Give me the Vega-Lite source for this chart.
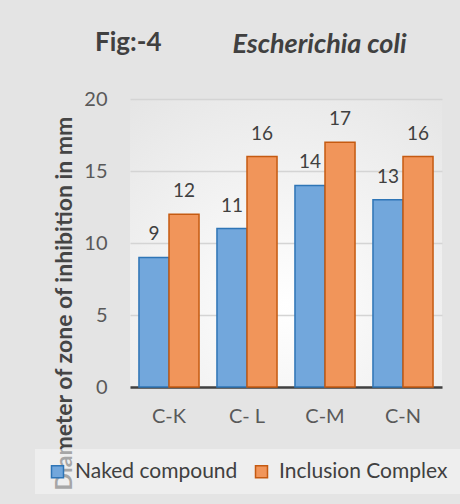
{
  "$schema": "https://vega.github.io/schema/vega-lite/v6.json",
  "autosize": "none",
  "width": 312,
  "height": 288,
  "padding": {"left": 130, "top": 99, "right": 18, "bottom": 117},
  "background": "#e4e4e4",
  "view": {
    "stroke": null,
    "fill": {
      "gradient": "radial",
      "x1": 0.5, "y1": 0.7, "r1": 0,
      "x2": 0.5, "y2": 0.7, "r2": 0.9,
      "stops": [
        {"offset": 0, "color": "#ffffff"},
        {"offset": 1, "color": "#e3e3e3"}
      ]
    }
  },
  "config": {
    "font": "Lato"
  },
  "title": {
    "text": "Fig:-4",
    "anchor": "start",
    "frame": "group",
    "font": "Lato",
    "fontSize": 26,
    "fontWeight": "bold",
    "color": "#404040",
    "dx": -35,
    "dy": 30
  },
  "data": {
    "values": [
      {"cat": "C-K", "series": "Naked compound", "value": 9},
      {"cat": "C-K", "series": "Inclusion Complex", "value": 12},
      {"cat": "C- L", "series": "Naked compound", "value": 11},
      {"cat": "C- L", "series": "Inclusion Complex", "value": 16},
      {"cat": "C-M", "series": "Naked compound", "value": 14},
      {"cat": "C-M", "series": "Inclusion Complex", "value": 17},
      {"cat": "C-N", "series": "Naked compound", "value": 13},
      {"cat": "C-N", "series": "Inclusion Complex", "value": 16}
    ]
  },
  "encoding": {
    "x": {
      "field": "cat",
      "type": "nominal",
      "sort": ["C-K", "C- L", "C-M", "C-N"],
      "scale": {"paddingInner": 0.23, "paddingOuter": 0.115}
    },
    "xOffset": {
      "field": "series",
      "type": "nominal",
      "sort": ["Naked compound", "Inclusion Complex"]
    },
    "y": {
      "field": "value",
      "type": "quantitative",
      "scale": {"domain": [0, 20]},
      "axis": {
        "values": [0, 5, 10, 15, 20],
        "title": "Diameter of zone of inhibition in mm",
        "titleFont": "Lato",
        "titleFontSize": 23,
        "titleFontWeight": "bold",
        "titleColor": "#454545",
        "titleAngle": 270,
        "titleAlign": "center",
        "titleBaseline": "middle",
        "titleX": -66,
        "titleY": 204,
        "domain": false,
        "ticks": false,
        "grid": true,
        "gridColor": "#d4d4d4",
        "gridWidth": 1.5,
        "labelFont": "Lato",
        "labelFontSize": 20,
        "labelColor": "#595959",
        "labelPadding": 23
      }
    }
  },
  "layer": [
    {
      "mark": {"type": "bar", "strokeWidth": 1.5},
      "encoding": {
        "x": {
          "field": "cat",
          "type": "nominal",
          "sort": ["C-K", "C- L", "C-M", "C-N"],
          "axis": {
            "title": null,
            "orient": "bottom",
            "labelAngle": 0,
            "labelFont": "Lato",
            "labelFontSize": 20,
            "labelColor": "#595959",
            "labelPadding": 19,
            "ticks": false,
            "domainColor": "#404040",
            "domainWidth": 2.5,
            "grid": false
          }
        },
        "fill": {
          "field": "series",
          "type": "nominal",
          "sort": ["Naked compound", "Inclusion Complex"],
          "scale": {"range": ["#72a7dc", "#f1955a"]},
          "legend": {
            "title": null,
            "orient": "none",
            "direction": "horizontal",
            "legendX": -95,
            "legendY": 350,
            "fillColor": "rgba(245,245,245,0.55)",
            "padding": 12,
            "symbolType": "square",
            "symbolSize": 144,
            "symbolStrokeWidth": 1.5,
            "labelFont": "Lato",
            "labelFontSize": 21,
            "labelColor": "#404040",
            "labelOffset": 7,
            "labelLimit": 300,
            "columnPadding": 13,
            "encode": {
              "symbols": {
                "update": {
                  "stroke": {"scale": "stroke", "field": "value"}
                }
              }
            }
          }
        },
        "stroke": {
          "field": "series",
          "type": "nominal",
          "sort": ["Naked compound", "Inclusion Complex"],
          "scale": {"range": ["#2e75b6", "#c55a11"]},
          "legend": null
        }
      }
    },
    {
      "mark": {"type": "text", "baseline": "alphabetic", "dy": -17, "fontSize": 19, "font": "Lato", "color": "#404040"},
      "encoding": {
        "x": {
          "field": "cat",
          "type": "nominal",
          "sort": ["C-K", "C- L", "C-M", "C-N"],
          "axis": {
            "orient": "top",
            "title": "Escherichia coli",
            "titleFont": "Lato",
            "titleFontSize": 27,
            "titleFontWeight": "bold",
            "titleFontStyle": "italic",
            "titleColor": "#404040",
            "titleAlign": "center",
            "titleBaseline": "alphabetic",
            "titleX": 189,
            "titleY": -47,
            "labels": false,
            "ticks": false,
            "domain": false,
            "grid": false
          }
        },
        "text": {"field": "value", "type": "quantitative"}
      }
    }
  ],
  "resolve": {"axis": {"x": "independent"}}
}
